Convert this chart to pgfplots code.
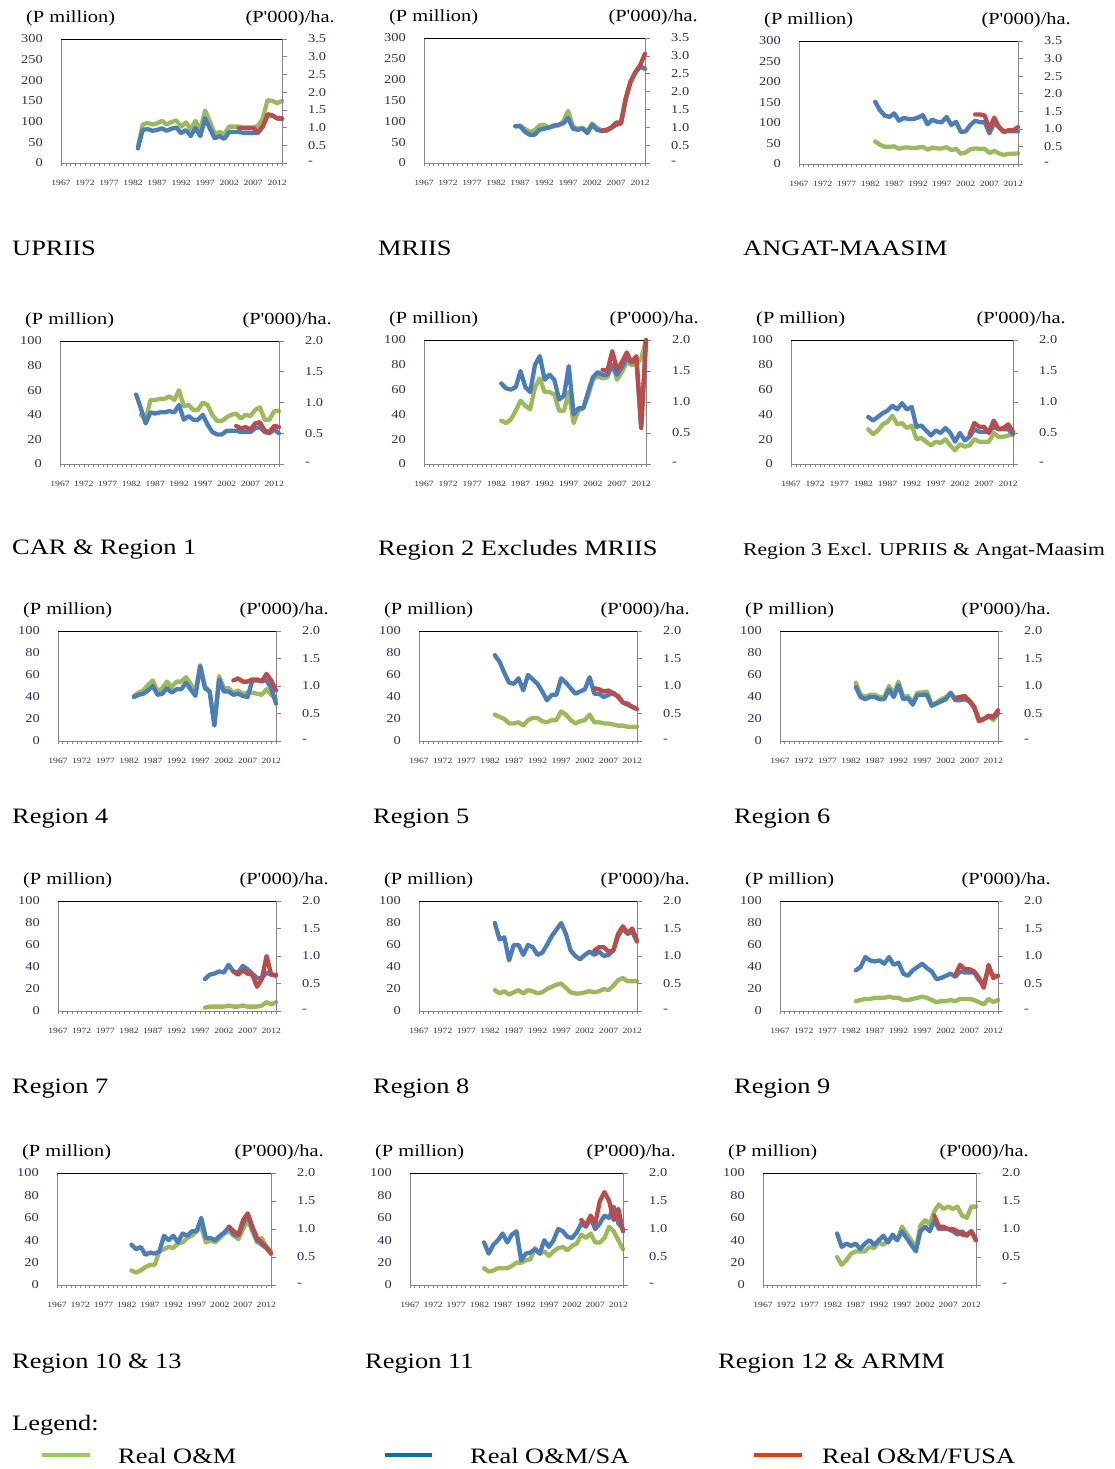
\documentclass[border=0pt]{standalone}
\usepackage{pgfplots}
\pgfplotsset{compat=1.18}
\usepackage{fontspec}
\setmainfont[FakeStretch=1.2, Ligatures=TeXOff]{Liberation Serif}
\definecolor{cG}{HTML}{9BBB59}
\definecolor{cB}{HTML}{4A7EBB}
\definecolor{cR}{HTML}{BE4B48}
\definecolor{lG}{HTML}{92D050}
\definecolor{lB}{HTML}{0070C0}
\definecolor{lR}{HTML}{FF3300}
\definecolor{tk}{HTML}{2E2E55}
\definecolor{ax}{HTML}{868686}
\pgfplotsset{
 common/.style={scale only axis, anchor=north west, xmin=1967, xmax=2013, ymin=0, clip=false,
   /pgf/number format/assume math mode=true,
   tick label style={font=\fontsize{12}{14}\selectfont, text=tk},
   axis line style={draw=ax, line width=0.8pt}},
 leftax/.style={common, xtick={1967,1972,...,2012}, minor xtick={1967,...,2013}, xtick pos=bottom, ytick pos=left,
   tick align=outside, major tick length=3pt, minor tick length=3pt,
   x tick style={draw=ax, line width=0.6pt}, y tick style={draw=none},
   xticklabel style={font=\fontsize{8}{9}\selectfont, text=black!80, /pgf/number format/1000 sep={}, anchor=center, yshift=-17pt},
   yticklabel style={anchor=east, inner sep=0pt, xshift=-15pt}},
 rightax/.style={common, axis y line*=right, axis x line=none, tick align=outside, major tick length=5pt,
   y tick style={draw=ax, line width=0.6pt},
   yticklabel style={anchor=west, inner sep=0pt, xshift=21pt}},
 leftA/.style={ymax=300, ytick={0,50,...,300}},
 leftB/.style={ymax=100, ytick={0,20,...,100}},
 rightA/.style={ymax=3.5, ytick={0,0.5,1,1.5,2,2.5,3,3.5}, yticklabels={-,0.5,1.0,1.5,2.0,2.5,3.0,3.5}},
 rightB/.style={ymax=2, ytick={0,0.5,1,1.5,2}, yticklabels={-,0.5,1.0,1.5,2.0}},
 ser/.style={line width=4.3pt, line join=round, line cap=round, mark=none},
}
\newcommand{\Panel}[8]{%
\begin{axis}[leftax, left#5, at={(#1pt,-#2pt)}, width=#3pt, height=#4pt]
\addplot[ser, cG] coordinates {#6};
\draw[black, line width=0.9pt] (rel axis cs:0,1) -- (rel axis cs:1,1);
\node[anchor=west, inner sep=0pt, font=\fontsize{17}{20}\selectfont, xshift=-35pt, yshift=21pt] at (rel axis cs:0,1) {(P million)};
\node[anchor=east, inner sep=0pt, font=\fontsize{17}{20}\selectfont, xshift=53pt, yshift=21pt] at (rel axis cs:1,1) {(P'000)/ha.};
\end{axis}
\begin{axis}[rightax, right#5, at={(#1pt,-#2pt)}, width=#3pt, height=#4pt]
\addplot[ser, cB] coordinates {#7};
\addplot[ser, cR] coordinates {#8};
\end{axis}}
\begin{document}
\begin{tikzpicture}
\path[use as bounding box] (0pt,0pt) rectangle (1115pt,-1469pt);
% 1 UPRIIS
\Panel{61}{39}{221}{124}{A}
{(1983,38)(1984,93)(1985,97)(1986,93)(1987,96)(1988,102)(1989,93)(1990,99)(1991,103)(1992,88)(1993,98)(1994,82)(1995,102)(1996,80)(1997,127)(1998,100)(1999,70)(2000,75)(2001,70)(2002,88)(2003,88)(2004,88)(2005,86)(2006,86)(2007,86)(2008,90)(2009,108)(2010,152)(2011,150)(2012,145)(2013,150)}
{(1983,0.41)(1984,0.93)(1985,0.96)(1986,0.91)(1987,0.93)(1988,0.98)(1989,0.91)(1990,0.97)(1991,1.00)(1992,0.84)(1993,0.93)(1994,0.76)(1995,0.99)(1996,0.76)(1997,1.26)(1998,0.97)(1999,0.70)(2000,0.76)(2001,0.68)(2002,0.875)(2003,0.875)(2004,0.875)(2005,0.85)(2006,0.85)(2007,0.85)(2008,0.85)(2009,1.03)(2010,1.34)(2011,1.34)(2012,1.26)(2013,1.24)}
{(2004,0.99)(2005,0.99)(2006,0.99)(2007,0.99)(2008,0.875)(2009,1.03)(2010,1.38)(2011,1.34)(2012,1.26)(2013,1.26)}
% 2 MRIIS
\Panel{424}{38}{221}{125}{A}
{(1986,88)(1987,90)(1988,82)(1989,75)(1990,78)(1991,90)(1992,92)(1993,85)(1994,88)(1995,90)(1996,100)(1997,125)(1998,88)(1999,82)(2000,85)(2001,75)(2002,95)(2003,85)(2004,78)(2005,78)(2006,85)(2007,92)(2008,95)(2009,155)(2010,195)(2011,218)(2012,232)(2013,226)}
{(1986,1.03)(1987,1.03)(1988,0.875)(1989,0.79)(1990,0.79)(1991,0.93)(1992,0.96)(1993,0.99)(1994,1.05)(1995,1.07)(1996,1.11)(1997,1.26)(1998,0.96)(1999,0.93)(2000,0.96)(2001,0.84)(2002,1.07)(2003,0.93)(2004,0.89)(2005,0.91)(2006,0.99)(2007,1.07)(2008,1.11)(2009,1.81)(2010,2.28)(2011,2.54)(2012,2.70)(2013,2.64)}
{(2004,0.91)(2005,0.93)(2006,0.99)(2007,1.13)(2008,1.13)(2009,1.81)(2010,2.28)(2011,2.54)(2012,2.74)(2013,3.06)}
% 3 ANGAT-MAASIM
\Panel{799}{41}{219}{123}{A}
{(1983,55)(1984,47)(1985,42)(1986,42)(1987,43)(1988,37)(1989,40)(1990,40)(1991,39)(1992,40)(1993,42)(1994,35)(1995,40)(1996,38)(1997,38)(1998,41)(1999,34)(2000,37)(2001,25)(2002,28)(2003,36)(2004,38)(2005,37)(2006,37)(2007,27)(2008,32)(2009,26)(2010,22)(2011,25)(2012,25)(2013,26)}
{(1983,1.77)(1984,1.53)(1985,1.38)(1986,1.34)(1987,1.44)(1988,1.23)(1989,1.31)(1990,1.28)(1991,1.28)(1992,1.32)(1993,1.39)(1994,1.13)(1995,1.26)(1996,1.20)(1997,1.19)(1998,1.34)(1999,1.11)(2000,1.20)(2001,0.91)(2002,0.93)(2003,1.11)(2004,1.23)(2005,1.19)(2006,1.19)(2007,0.875)(2008,1.17)(2009,1.05)(2010,0.93)(2011,0.93)(2012,0.93)(2013,0.93)}
{(2004,1.41)(2005,1.41)(2006,1.38)(2007,0.99)(2008,1.32)(2009,1.05)(2010,0.91)(2011,0.96)(2012,0.96)(2013,1.05)}
% 4 CAR & Region 1
\Panel{60}{341}{219}{123}{B}
{(1984,40)(1985,36)(1986,52)(1987,52)(1988,53)(1989,53)(1990,55)(1991,52)(1992,60)(1993,47)(1994,48)(1995,44)(1996,44)(1997,50)(1998,48)(1999,40)(2000,35)(2001,35)(2002,38)(2003,40)(2004,41)(2005,37)(2006,40)(2007,39)(2008,44)(2009,46)(2010,36)(2011,36)(2012,43)(2013,43)}
{(1983,1.13)(1984,0.90)(1985,0.66)(1986,0.84)(1987,0.82)(1988,0.84)(1989,0.84)(1990,0.86)(1991,0.84)(1992,0.96)(1993,0.72)(1994,0.78)(1995,0.72)(1996,0.72)(1997,0.80)(1998,0.64)(1999,0.52)(2000,0.48)(2001,0.48)(2002,0.54)(2003,0.54)(2004,0.54)(2005,0.52)(2006,0.52)(2007,0.52)(2008,0.58)(2009,0.60)(2010,0.52)(2011,0.50)(2012,0.56)(2013,0.50)}
{(2004,0.62)(2005,0.58)(2006,0.60)(2007,0.56)(2008,0.66)(2009,0.68)(2010,0.54)(2011,0.52)(2012,0.62)(2013,0.60)}
% 5 Region 2
\Panel{424}{340}{222}{124}{B}
{(1983,35)(1984,33)(1985,36)(1986,43)(1987,51)(1988,47)(1989,44)(1990,62)(1991,69)(1992,58)(1993,58)(1994,56)(1995,43)(1996,43)(1997,58)(1998,33)(1999,43)(2000,45)(2001,55)(2002,68)(2003,71)(2004,69)(2005,70)(2006,80)(2007,68)(2008,74)(2009,82)(2010,80)(2011,80)(2012,85)(2013,100)}
{(1983,1.30)(1984,1.22)(1985,1.20)(1986,1.24)(1987,1.50)(1988,1.24)(1989,1.16)(1990,1.60)(1991,1.74)(1992,1.36)(1993,1.44)(1994,1.36)(1995,1.04)(1996,1.10)(1997,1.58)(1998,0.80)(1999,0.90)(2000,0.90)(2001,1.16)(2002,1.40)(2003,1.48)(2004,1.44)(2005,1.44)(2006,1.60)(2007,1.44)(2008,1.56)(2009,1.70)(2010,1.64)(2011,1.70)(2012,0.60)(2013,2.0)}
{(2004,1.52)(2005,1.50)(2006,1.82)(2007,1.52)(2008,1.64)(2009,1.80)(2010,1.64)(2011,1.74)(2012,0.58)(2013,2.0)}
% 6 Region 3
\Panel{791}{340}{222}{124}{B}
{(1983,28)(1984,24)(1985,27)(1986,32)(1987,34)(1988,39)(1989,32)(1990,33)(1991,29)(1992,31)(1993,20)(1994,21)(1995,18)(1996,15)(1997,18)(1998,17)(1999,20)(2000,15)(2001,11)(2002,16)(2003,14)(2004,15)(2005,20)(2006,18)(2007,18)(2008,18)(2009,25)(2010,22)(2011,22)(2012,23)(2013,24)}
{(1983,0.76)(1984,0.70)(1985,0.76)(1986,0.82)(1987,0.86)(1988,0.94)(1989,0.88)(1990,0.98)(1991,0.88)(1992,0.92)(1993,0.60)(1994,0.62)(1995,0.54)(1996,0.46)(1997,0.54)(1998,0.50)(1999,0.58)(2000,0.50)(2001,0.36)(2002,0.50)(2003,0.38)(2004,0.44)(2005,0.56)(2006,0.52)(2007,0.52)(2008,0.52)(2009,0.60)(2010,0.56)(2011,0.56)(2012,0.56)(2013,0.48)}
{(2004,0.48)(2005,0.66)(2006,0.60)(2007,0.60)(2008,0.50)(2009,0.70)(2010,0.56)(2011,0.58)(2012,0.64)(2013,0.52)}
% 7 Region 4
\Panel{58}{631}{218}{110}{B}
{(1983,41)(1984,44)(1985,46)(1986,51)(1987,55)(1988,45)(1989,48)(1990,54)(1991,49)(1992,54)(1993,54)(1994,58)(1995,52)(1996,45)(1997,69)(1998,50)(1999,45)(2000,15)(2001,59)(2002,48)(2003,48)(2004,44)(2005,46)(2006,43)(2007,44)(2008,44)(2009,43)(2010,42)(2011,47)(2012,42)(2013,38)}
{(1983,0.80)(1984,0.84)(1985,0.86)(1986,0.92)(1987,1.00)(1988,0.84)(1989,0.86)(1990,0.96)(1991,0.88)(1992,0.94)(1993,0.94)(1994,1.06)(1995,0.94)(1996,0.82)(1997,1.36)(1998,0.96)(1999,0.90)(2000,0.28)(2001,1.12)(2002,0.90)(2003,0.90)(2004,0.84)(2005,0.86)(2006,0.82)(2007,0.80)(2008,1.10)(2009,1.10)(2010,1.10)(2011,1.10)(2012,0.96)(2013,0.68)}
{(2004,1.10)(2005,1.14)(2006,1.08)(2007,1.08)(2008,1.12)(2009,1.12)(2010,1.08)(2011,1.22)(2012,1.10)(2013,0.92)}
% 8 Region 5
\Panel{419}{631}{218}{110}{B}
{(1983,24)(1984,22)(1985,20)(1986,16)(1987,16)(1988,17)(1989,14)(1990,19)(1991,21)(1992,21)(1993,18)(1994,17)(1995,19)(1996,19)(1997,27)(1998,24)(1999,19)(2000,16)(2001,18)(2002,19)(2003,24)(2004,17)(2005,17)(2006,16)(2007,16)(2008,15)(2009,14)(2010,14)(2011,13)(2012,13)(2013,13)}
{(1983,1.56)(1984,1.44)(1985,1.24)(1986,1.06)(1987,1.04)(1988,1.14)(1989,0.92)(1990,1.20)(1991,1.12)(1992,1.04)(1993,0.90)(1994,0.74)(1995,0.84)(1996,0.84)(1997,1.14)(1998,1.06)(1999,0.96)(2000,0.86)(2001,0.90)(2002,0.94)(2003,1.16)(2004,0.86)(2005,0.86)(2006,0.80)(2007,0.84)(2008,0.88)(2009,0.80)(2010,0.70)(2011,0.66)(2012,0.62)(2013,0.58)}
{(2004,0.96)(2005,0.94)(2006,0.90)(2007,0.92)(2008,0.86)(2009,0.82)(2010,0.70)(2011,0.68)(2012,0.62)(2013,0.58)}
% 9 Region 6
\Panel{780}{631}{218}{110}{B}
{(1983,53)(1984,42)(1985,40)(1986,42)(1987,42)(1988,40)(1989,40)(1990,50)(1991,43)(1992,54)(1993,40)(1994,41)(1995,35)(1996,44)(1997,44)(1998,45)(1999,33)(2000,35)(2001,38)(2002,40)(2003,43)(2004,39)(2005,40)(2006,40)(2007,37)(2008,31)(2009,18)(2010,20)(2011,23)(2012,19)(2013,25)}
{(1983,0.98)(1984,0.80)(1985,0.76)(1986,0.80)(1987,0.80)(1988,0.76)(1989,0.76)(1990,0.94)(1991,0.80)(1992,1.02)(1993,0.76)(1994,0.78)(1995,0.66)(1996,0.84)(1997,0.84)(1998,0.84)(1999,0.64)(2000,0.68)(2001,0.72)(2002,0.76)(2003,0.88)(2004,0.74)(2005,0.74)(2006,0.76)(2007,0.72)(2008,0.60)(2009,0.38)(2010,0.40)(2011,0.44)(2012,0.42)(2013,0.50)}
{(2004,0.78)(2005,0.80)(2006,0.82)(2007,0.72)(2008,0.62)(2009,0.36)(2010,0.40)(2011,0.46)(2012,0.44)(2013,0.56)}
% 10 Region 7
\Panel{58}{901}{218}{110}{B}
{(1998,3)(1999,4)(2000,4)(2001,4)(2002,4)(2003,5)(2004,4)(2005,4)(2006,5)(2007,4)(2008,4)(2009,4)(2010,5)(2011,8)(2012,6)(2013,8)}
{(1998,0.58)(1999,0.66)(2000,0.68)(2001,0.72)(2002,0.70)(2003,0.84)(2004,0.72)(2005,0.70)(2006,0.82)(2007,0.76)(2008,0.68)(2009,0.60)(2010,0.60)(2011,0.70)(2012,0.66)(2013,0.64)}
{(2004,0.72)(2005,0.66)(2006,0.74)(2007,0.68)(2008,0.66)(2009,0.44)(2010,0.58)(2011,1.00)(2012,0.66)(2013,0.66)}
% 11 Region 8
\Panel{419}{901}{218}{110}{B}
{(1983,19)(1984,16)(1985,18)(1986,15)(1987,17)(1988,19)(1989,16)(1990,19)(1991,18)(1992,16)(1993,17)(1994,20)(1995,22)(1996,24)(1997,25)(1998,21)(1999,17)(2000,16)(2001,16)(2002,17)(2003,18)(2004,17)(2005,18)(2006,20)(2007,19)(2008,23)(2009,28)(2010,30)(2011,27)(2012,27)(2013,27)}
{(1983,1.60)(1984,1.30)(1985,1.34)(1986,0.92)(1987,1.20)(1988,1.20)(1989,1.02)(1990,1.20)(1991,1.16)(1992,1.02)(1993,1.06)(1994,1.20)(1995,1.36)(1996,1.48)(1997,1.60)(1998,1.40)(1999,1.10)(2000,1.00)(2001,0.94)(2002,1.02)(2003,1.08)(2004,1.02)(2005,1.08)(2006,1.00)(2007,1.02)(2008,1.10)(2009,1.36)(2010,1.50)(2011,1.40)(2012,1.44)(2013,1.26)}
{(2004,1.10)(2005,1.16)(2006,1.16)(2007,1.08)(2008,1.10)(2009,1.40)(2010,1.54)(2011,1.42)(2012,1.50)(2013,1.28)}
% 12 Region 9
\Panel{780}{901}{218}{110}{B}
{(1983,9)(1984,10)(1985,11)(1986,11)(1987,12)(1988,12)(1989,12)(1990,13)(1991,12)(1992,12)(1993,10)(1994,10)(1995,11)(1996,12)(1997,13)(1998,12)(1999,10)(2000,8)(2001,9)(2002,9)(2003,10)(2004,9)(2005,11)(2006,11)(2007,11)(2008,10)(2009,8)(2010,6)(2011,11)(2012,8)(2013,10)}
{(1983,0.74)(1984,0.80)(1985,0.98)(1986,0.92)(1987,0.90)(1988,0.92)(1989,0.86)(1990,0.98)(1991,0.84)(1992,0.88)(1993,0.68)(1994,0.64)(1995,0.74)(1996,0.80)(1997,0.86)(1998,0.78)(1999,0.72)(2000,0.58)(2001,0.60)(2002,0.64)(2003,0.68)(2004,0.62)(2005,0.72)(2006,0.70)(2007,0.70)(2008,0.70)(2009,0.56)(2010,0.50)(2011,0.76)(2012,0.64)(2013,0.64)}
{(2004,0.66)(2005,0.84)(2006,0.76)(2007,0.76)(2008,0.72)(2009,0.60)(2010,0.42)(2011,0.84)(2012,0.60)(2013,0.64)}
% 13 Region 10 & 13
\Panel{57}{1173}{214}{112}{B}
{(1983,13)(1984,11)(1985,13)(1986,16)(1987,18)(1988,18)(1989,30)(1990,32)(1991,34)(1992,33)(1993,37)(1994,38)(1995,42)(1996,44)(1997,48)(1998,52)(1999,38)(2000,40)(2001,38)(2002,42)(2003,46)(2004,48)(2005,44)(2006,41)(2007,50)(2008,58)(2009,48)(2010,38)(2011,42)(2012,34)(2013,30)}
{(1983,0.72)(1984,0.64)(1985,0.68)(1986,0.54)(1987,0.58)(1988,0.56)(1989,0.60)(1990,0.88)(1991,0.80)(1992,0.88)(1993,0.76)(1994,0.92)(1995,0.88)(1996,0.96)(1997,0.96)(1998,1.20)(1999,0.84)(2000,0.84)(2001,0.80)(2002,0.88)(2003,0.94)(2004,1.04)(2005,0.90)(2006,0.88)(2007,1.10)(2008,1.24)(2009,1.00)(2010,0.80)(2011,0.72)(2012,0.66)(2013,0.56)}
{(2004,1.04)(2005,0.96)(2006,0.90)(2007,1.16)(2008,1.28)(2009,1.04)(2010,0.84)(2011,0.76)(2012,0.68)(2013,0.56)}
% 14 Region 11
\Panel{410}{1173}{213}{112}{B}
{(1983,15)(1984,12)(1985,13)(1986,15)(1987,15)(1988,15)(1989,17)(1990,20)(1991,20)(1992,22)(1993,23)(1994,33)(1995,28)(1996,30)(1997,26)(1998,30)(1999,33)(2000,34)(2001,31)(2002,35)(2003,37)(2004,45)(2005,42)(2006,46)(2007,38)(2008,38)(2009,42)(2010,52)(2011,48)(2012,40)(2013,32)}
{(1983,0.76)(1984,0.56)(1985,0.72)(1986,0.80)(1987,0.92)(1988,0.76)(1989,0.90)(1990,0.96)(1991,0.44)(1992,0.56)(1993,0.58)(1994,0.64)(1995,0.56)(1996,0.80)(1997,0.68)(1998,0.80)(1999,1.00)(2000,0.96)(2001,0.86)(2002,0.84)(2003,0.94)(2004,1.10)(2005,1.04)(2006,1.20)(2007,1.00)(2008,1.10)(2009,1.24)(2010,1.20)(2011,1.40)(2012,1.10)(2013,1.00)}
{(2004,1.16)(2005,1.06)(2006,1.24)(2007,1.10)(2008,1.50)(2009,1.66)(2010,1.50)(2011,1.16)(2012,1.36)(2013,0.96)}
% 15 Region 12 & ARMM
\Panel{763}{1173}{213}{112}{B}
{(1983,25)(1984,18)(1985,22)(1986,28)(1987,30)(1988,30)(1989,30)(1990,34)(1991,33)(1992,38)(1993,36)(1994,40)(1995,43)(1996,40)(1997,52)(1998,46)(1999,40)(2000,32)(2001,53)(2002,58)(2003,54)(2004,66)(2005,72)(2006,68)(2007,70)(2008,68)(2009,70)(2010,62)(2011,60)(2012,70)(2013,70)}
{(1983,0.92)(1984,0.68)(1985,0.74)(1986,0.70)(1987,0.74)(1988,0.64)(1989,0.74)(1990,0.80)(1991,0.72)(1992,0.80)(1993,0.88)(1994,0.76)(1995,0.90)(1996,0.80)(1997,0.96)(1998,0.84)(1999,0.72)(2000,0.60)(2001,0.96)(2002,1.04)(2003,0.96)(2004,1.16)(2005,1.00)(2006,1.00)(2007,1.00)(2008,0.96)(2009,0.90)(2010,0.96)(2011,0.88)(2012,0.96)(2013,0.80)}
{(2004,1.24)(2005,1.04)(2006,1.04)(2007,1.00)(2008,1.00)(2009,0.96)(2010,0.90)(2011,0.90)(2012,0.96)(2013,0.80)}
% titles
\begin{scope}[every node/.style={anchor=west, inner sep=0pt, font=\fontsize{22}{26}\selectfont}]
\node at (12pt,-248pt) {UPRIIS};
\node at (378pt,-248pt) {MRIIS};
\node at (743pt,-248pt) {ANGAT-MAASIM};
\node at (12pt,-550pt) {CAR \& Region 1};
\node at (378pt,-550pt) {Region 2 Excludes MRIIS};
\node[font=\fontsize{18}{22}\selectfont] at (743pt,-551pt) {Region 3 Excl. UPRIIS \& Angat-Maasim};
\node at (12pt,-819pt) {Region 4};
\node at (373pt,-819pt) {Region 5};
\node at (734pt,-819pt) {Region 6};
\node at (12pt,-1089pt) {Region 7};
\node at (373pt,-1089pt) {Region 8};
\node at (734pt,-1089pt) {Region 9};
\node at (12pt,-1364pt) {Region 10 \& 13};
\node at (365pt,-1364pt) {Region 11};
\node at (718pt,-1364pt) {Region 12 \& ARMM};
\node at (12pt,-1425pt) {Legend:};
\node at (118pt,-1456pt) {Real O\&M};
\node at (470pt,-1456pt) {Real O\&M/SA};
\node at (822pt,-1456pt) {Real O\&M/FUSA};
\end{scope}
\draw[lG, line width=4pt] (42pt,-1455pt) -- (90pt,-1455pt);
\draw[lB, line width=4pt] (385pt,-1455pt) -- (432pt,-1455pt);
\draw[lR, line width=4pt] (754pt,-1455pt) -- (802pt,-1455pt);
\end{tikzpicture}
\end{document}
